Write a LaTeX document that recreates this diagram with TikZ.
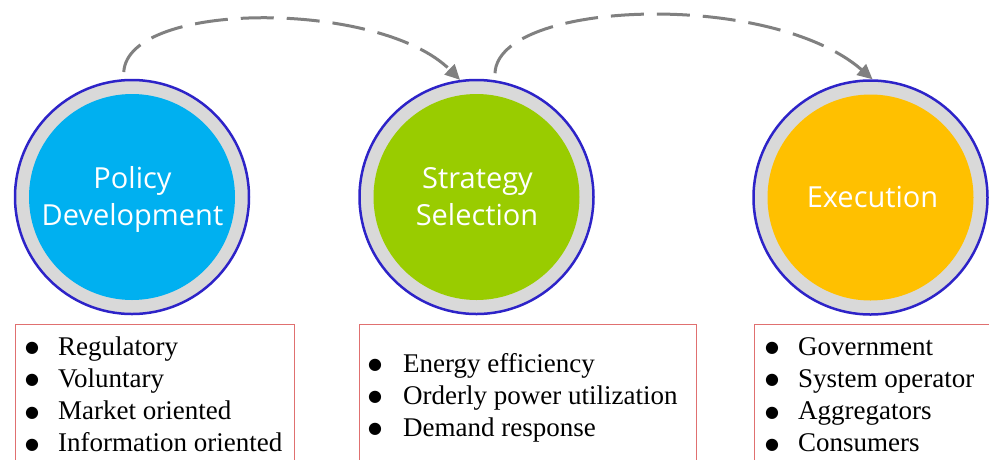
\documentclass[tikz,border=0pt]{standalone}
\usepackage{fontspec}
\setmainfont{Liberation Serif}
\newfontfamily\labelfont{Open Sans}
\newfontfamily\dotfont{DejaVu Sans}
\usetikzlibrary{arrows.meta}
\definecolor{ringgray}{HTML}{D9D9D9}
\definecolor{rimblue}{RGB}{45,35,200}
\definecolor{polblue}{HTML}{00B0F0}
\definecolor{strgreen}{HTML}{99CC00}
\definecolor{exegold}{HTML}{FFC000}
\definecolor{boxred}{HTML}{E07070}
\definecolor{arrgray}{HTML}{808080}
\newcommand{\bigdot}{\raisebox{2.5pt}{\dotfont\fontsize{16}{16}\selectfont ●}}
\begin{document}
\begin{tikzpicture}[x=1pt,y=-1pt,
  ring/.style={circle, draw=rimblue, line width=2.5pt, fill=ringgray, minimum size=234pt, inner sep=0pt},
  core/.style={circle, minimum size=206pt, inner sep=0pt},
  lbl/.style={font=\labelfont\fontsize{29}{35}\selectfont, text=white, anchor=base, inner sep=0pt},
  listbox/.style={draw=boxred, line width=1.3pt, anchor=north west, inner sep=0pt, minimum height=160pt},
  item/.style={font=\fontsize{27}{32}\selectfont, anchor=base west, inner sep=0pt},
  flow/.style={draw=arrgray, line width=3pt, dash pattern=on 33pt off 13pt, -{Triangle[length=15pt,width=14pt]}}
]
\useasboundingbox (0,0) rectangle (989,459);
\clip (0,0) rectangle (989,459);
\fill[white] (0,0) rectangle (989,459);

% list boxes
\node[listbox, minimum width=279pt] (box1) at (15,324) {};
\node[listbox, minimum width=337pt] (box2) at (359,324) {};
\node[listbox, minimum width=250pt] (box3) at (754,324) {};

\foreach \t [count=\i] in {Regulatory,Voluntary,Market oriented,Information oriented}
  \node[item] (pa\i) at (25,{355+32.3*(\i-1)}) {\makebox[33pt][l]{\bigdot}\t};
\foreach \t [count=\i] in {Energy efficiency,Orderly power utilization,Demand response}
  \node[item] (pb\i) at (368,{372+32*(\i-1)}) {\makebox[35pt][l]{\bigdot}\t};
\foreach \t [count=\i] in {Government,System operator,Aggregators,Consumers}
  \node[item] (pc\i) at (765,{355+32.3*(\i-1)}) {\makebox[33pt][l]{\bigdot}\t};

% circles
\node[ring] (pol) at (132,197) {};
\node[core, fill=polblue] (polc) at (pol.center) {};
\node[ring] (str) at (476.5,197) {};
\node[core, fill=strgreen] (strc) at (str.center) {};
\node[ring] (exe) at (870.5,197.5) {};
\node[core, fill=exegold] (exec) at (exe.center) {};

\node[lbl] (pol1) at (132.5,188) {Policy};
\node[lbl] (pol2) at (132.5,225) {Development};
\node[lbl] (str1) at (477.5,188) {Strategy};
\node[lbl] (str2) at (477,225) {Selection};
\node[lbl] (exe1) at (872.5,207) {Execution};

% flow arrows
\draw[flow] ([yshift=7pt]pol.94) .. controls (128,0) and (380,0) .. (str.98);
\draw[flow] ([yshift=7pt]str.81) .. controls (498,0) and (770,-10) .. (exe.89);
\end{tikzpicture}
\end{document}
